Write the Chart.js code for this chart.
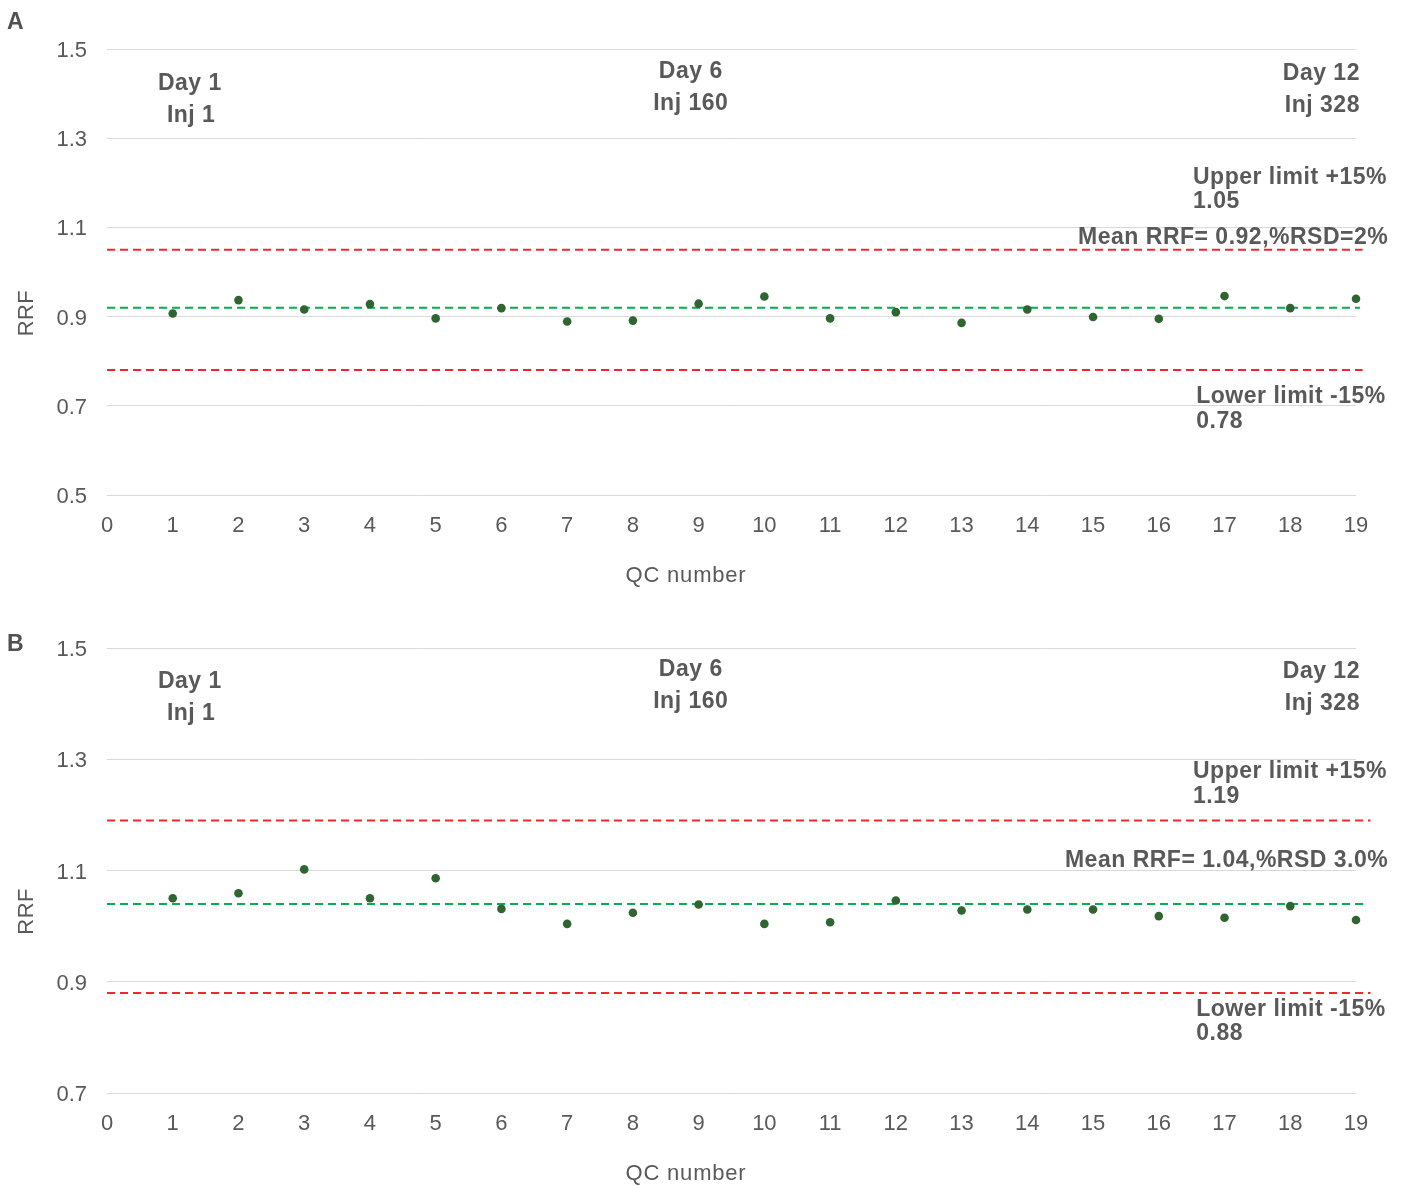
<!DOCTYPE html>
<html>
<head>
<meta charset="utf-8">
<title>RRF QC control charts</title>
<script src="https://cdn.jsdelivr.net/npm/chart.js@4.4.1/dist/chart.umd.min.js"></script>
<style>
  html, body { margin: 0; padding: 0; background: #ffffff; }
  #page { position: relative; width: 1403px; height: 1186px; overflow: hidden; }
  canvas { position: absolute; left: 0; display: block; }
</style>
</head>
<body>
<div id="page">
  <canvas id="chartA" width="1403" height="600" style="top:0px"></canvas>
  <canvas id="chartB" width="1403" height="587" style="top:599px"></canvas>
</div>
<script>
// ---- data ----
const qcNumbers = [1, 2, 3, 4, 5, 6, 7, 8, 9, 10, 11, 12, 13, 14, 15, 16, 17, 18, 19];
const xRange = [0, 19];

// Panel A: relative response factor per QC injection
const rrfA = [0.907, 0.937, 0.916, 0.928, 0.896, 0.919, 0.889, 0.891, 0.929, 0.945,
              0.896, 0.910, 0.886, 0.916, 0.899, 0.895, 0.946, 0.919, 0.940];
const yRangeA = [0.5, 1.5];
const meanA = 0.92;
const upperA = 1.05;
const lowerA = 0.78;
const rsdA = '%RSD=2%';

// Panel B
const rrfB = [1.050, 1.059, 1.102, 1.050, 1.086, 1.031, 1.004, 1.024, 1.039, 1.004,
              1.007, 1.046, 1.028, 1.030, 1.030, 1.018, 1.015, 1.036, 1.011];
const yRangeB = [0.7, 1.5];
const meanB = 1.04;
const upperB = 1.19;
const lowerB = 0.88;
const rsdB = '%RSD 3.0%';

const yStep = 0.2;
const dayLabels = ['Day 1', 'Day 6', 'Day 12'];
const injLabels = ['Inj 1', 'Inj 160', 'Inj 328'];
const upperTitle = 'Upper limit +15%';
const lowerTitle = 'Lower limit -15%';
const xTitle = 'QC number';
const yTitle = 'RRF';

// ---- styling ----
const FONT = '"Liberation Sans", Arial, Helvetica, sans-serif';
const TEXT = '#595959';
const POINT = '#2e6531';
const RED = '#f0282d';
const GREEN = '#00b050';
const GRID = '#d9d9d9';

function spacing(ctx, v) { if ('letterSpacing' in ctx) ctx.letterSpacing = v; }

// Draws the panel letter, axis titles and the day / limit annotations.
const panelText = {
  id: 'panelText',
  afterDraw(chart, args, opts) {
    const { ctx, chartArea } = chart;
    const xs = chart.scales.x, ys = chart.scales.y;
    ctx.save();
    ctx.textBaseline = 'alphabetic';

    // panel letter
    spacing(ctx, '0px');
    ctx.font = 'bold 23px ' + FONT;
    ctx.fillStyle = '#505050';
    ctx.textAlign = 'left';
    ctx.fillText(opts.tag, 7, opts.tagY + 23 * 0.36);

    // x axis title
    ctx.font = '22px ' + FONT;
    spacing(ctx, '0.8px');
    ctx.fillStyle = TEXT;
    ctx.textAlign = 'center';
    ctx.fillText(xTitle, 686, chartArea.bottom + 79 + 22 * 0.36);

    // rotated y axis title
    ctx.save();
    spacing(ctx, '0.4px');
    ctx.translate(25.5, chartArea.top + 0.592 * (chartArea.bottom - chartArea.top));
    ctx.rotate(-Math.PI / 2);
    ctx.fillText(yTitle, 0, 22 * 0.36);
    ctx.restore();

    // annotations placed in data coordinates
    ctx.font = 'bold 23px ' + FONT;
    spacing(ctx, '0.5px');
    ctx.fillStyle = TEXT;
    for (const a of opts.items) {
      ctx.textAlign = a.align;
      const px = xs.getPixelForValue(a.x);
      const py = ys.getPixelForValue(a.y);
      ctx.fillText(a.text, px, py + 23 * 0.36);
    }
    ctx.restore();
  }
};

function refLine(value, color, end) {
  return {
    type: 'line',
    data: [{ x: xRange[0], y: value }, { x: end, y: value }],
    borderColor: color,
    borderWidth: 2,
    borderDash: [8, 5],
    pointRadius: 0,
    fill: false,
    clip: false,
    order: 2
  };
}

function buildPanel(id, cfg) {
  return new Chart(document.getElementById(id), {
    type: 'scatter',
    data: {
      datasets: [
        {
          label: 'RRF',
          data: qcNumbers.map((q, i) => ({ x: q, y: cfg.values[i] })),
          backgroundColor: POINT,
          borderColor: POINT,
          borderWidth: 0,
          pointRadius: 4.3,
          clip: false,
          order: 0
        },
        refLine(cfg.mean, GREEN, cfg.lineEnd - 0.04),
        refLine(cfg.upper, RED, cfg.lineEnd),
        refLine(cfg.lower, RED, cfg.lineEnd)
      ]
    },
    options: {
      responsive: false,
      animation: false,
      events: [],
      layout: { padding: { top: 49, right: 47, bottom: 0, left: 0 } },
      plugins: {
        legend: { display: false },
        tooltip: { enabled: false },
        panelText: { tag: cfg.tag, tagY: cfg.tagY, items: cfg.items }
      },
      scales: {
        x: {
          type: 'linear',
          min: xRange[0],
          max: xRange[1],
          afterFit(scale) { scale.height = cfg.xAxisHeight; },
          grid: { display: false, drawTicks: false },
          border: { display: false },
          ticks: {
            stepSize: 1,
            autoSkip: false,
            maxRotation: 0,
            padding: 18,
            color: TEXT,
            font: { family: FONT, size: 22 }
          }
        },
        y: {
          min: cfg.yRange[0],
          max: cfg.yRange[1],
          afterFit(scale) { scale.width = 107; },
          grid: { color: GRID, lineWidth: 1, drawTicks: false },
          border: { display: false },
          ticks: {
            stepSize: yStep,
            padding: 20,
            labelOffset: 2,
            color: TEXT,
            font: { family: FONT, size: 22 },
            callback: v => Number(v).toFixed(1)
          }
        }
      }
    },
    plugins: [panelText]
  });
}

buildPanel('chartA', {
  tag: 'A', tagY: 20.5,
  values: rrfA, yRange: yRangeA,
  mean: meanA, upper: upperA, lower: lowerA,
  lineEnd: 19.1, xAxisHeight: 105,
  items: [
    { text: dayLabels[0], x: 1.26, y: 1.426, align: 'center' },
    { text: injLabels[0], x: 1.28, y: 1.354, align: 'center' },
    { text: dayLabels[1], x: 8.88, y: 1.453, align: 'center' },
    { text: injLabels[1], x: 8.88, y: 1.381, align: 'center' },
    { text: dayLabels[2], x: 19.06, y: 1.4485, align: 'right' },
    { text: injLabels[2], x: 19.06, y: 1.377, align: 'right' },
    { text: upperTitle, x: 16.52, y: 1.2156, align: 'left' },
    { text: upperA.toFixed(2), x: 16.52, y: 1.1618, align: 'left' },
    { text: 'Mean RRF= ' + meanA.toFixed(2) + ',' + rsdA, x: 19.49, y: 1.0812, align: 'right' },
    { text: lowerTitle, x: 16.57, y: 0.7251, align: 'left' },
    { text: lowerA.toFixed(2), x: 16.57, y: 0.6691, align: 'left' }
  ]
});

buildPanel('chartB', {
  tag: 'B', tagY: 44,
  values: rrfB, yRange: yRangeB,
  mean: meanB, upper: upperB, lower: lowerB,
  lineEnd: 19.22, xAxisHeight: 93,
  items: [
    { text: dayLabels[0], x: 1.26, y: 1.4425, align: 'center' },
    { text: injLabels[0], x: 1.28, y: 1.385, align: 'center' },
    { text: dayLabels[1], x: 8.88, y: 1.464, align: 'center' },
    { text: injLabels[1], x: 8.88, y: 1.4065, align: 'center' },
    { text: dayLabels[2], x: 19.06, y: 1.4604, align: 'right' },
    { text: injLabels[2], x: 19.06, y: 1.403, align: 'right' },
    { text: upperTitle, x: 16.52, y: 1.2807, align: 'left' },
    { text: upperB.toFixed(2), x: 16.52, y: 1.2357, align: 'left' },
    { text: 'Mean RRF= ' + meanB.toFixed(2) + ',' + rsdB, x: 19.49, y: 1.1207, align: 'right' },
    { text: lowerTitle, x: 16.57, y: 0.8528, align: 'left' },
    { text: lowerB.toFixed(2), x: 16.57, y: 0.8097, align: 'left' }
  ]
});
</script>
</body>
</html>
